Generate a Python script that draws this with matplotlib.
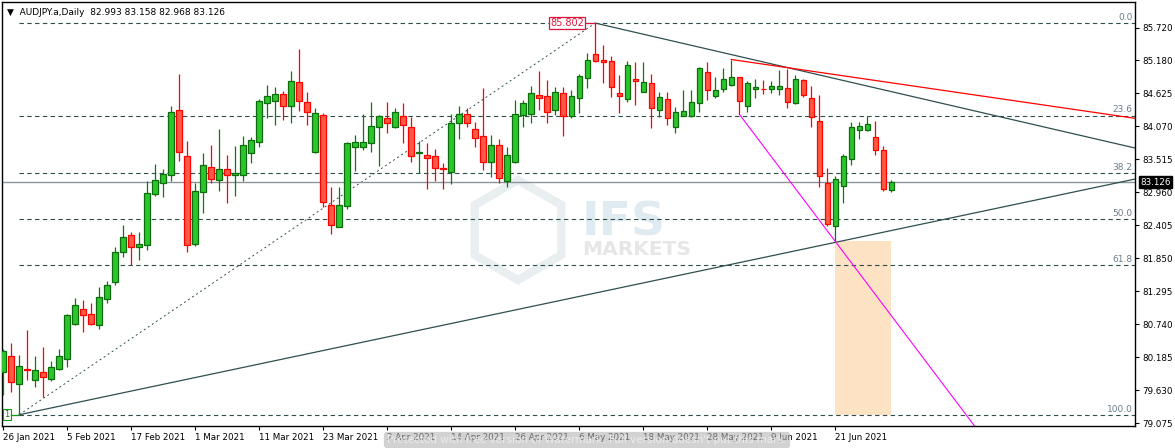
import matplotlib
matplotlib.use("Agg")
import matplotlib.pyplot as plt
import matplotlib.transforms as mtransforms
from matplotlib.patches import Rectangle, RegularPolygon

symbol = "AUDJPY.a,Daily"

# daily candles, bar 0 = 26 Jan 2021
opens = [79.93, 80.20, 79.73, 79.99, 79.80, 79.94, 79.81, 79.99, 80.15, 80.74,
         80.99, 80.91, 80.72, 81.17, 81.44, 81.96, 82.23, 82.03, 82.07, 82.92,
         83.12, 83.25, 84.34, 83.57, 82.08, 82.96, 83.38, 83.16, 83.34, 83.24,
         83.24, 83.62, 83.80, 84.46, 84.50, 84.61, 84.40, 84.81, 84.47, 83.64,
         84.26, 82.74, 82.38, 82.73, 83.71, 83.72, 83.79, 84.06, 84.21, 84.06,
         84.24, 84.05, 83.61, 83.58, 83.56, 83.36, 83.29, 84.13, 84.27, 84.02,
         83.90, 83.46, 83.75, 83.15, 83.47, 84.25, 84.27, 84.60, 84.57, 84.34,
         84.62, 84.24, 84.55, 84.88, 85.28, 85.18, 85.16, 84.62, 84.53, 84.86,
         84.65, 84.79, 84.34, 84.52, 84.06, 84.24, 84.24, 84.45, 84.98, 84.58,
         84.69, 84.76, 84.89, 84.40, 84.69, 84.70, 84.69, 84.69, 84.71, 84.45,
         84.84, 84.55, 84.16, 83.11, 82.39, 83.06, 83.51, 84.00, 84.00, 83.89,
         83.67, 82.993]
highs = [80.32, 80.43, 80.22, 80.64, 80.20, 80.35, 80.12, 80.32, 80.91, 81.18,
         81.15, 81.09, 81.36, 81.46, 82.03, 82.41, 82.29, 82.29, 83.15, 83.43,
         83.35, 84.41, 84.95, 83.82, 83.11, 83.61, 83.75, 84.02, 83.58, 83.74,
         83.90, 83.88, 84.53, 84.76, 84.73, 84.66, 85.00, 85.37, 84.65, 84.38,
         84.29, 83.04, 83.05, 83.80, 83.92, 84.28, 84.48, 84.26, 84.48, 84.38,
         84.46, 84.23, 83.82, 83.79, 83.68, 83.45, 84.27, 84.41, 84.38, 84.14,
         84.71, 83.92, 83.85, 83.72, 84.51, 84.51, 84.74, 84.99, 84.85, 84.73,
         84.72, 84.68, 84.95, 85.30, 85.802, 85.43, 85.25, 84.93, 85.17, 85.14,
         85.14, 84.95, 84.64, 84.65, 84.39, 84.67, 84.67, 85.07, 85.15, 84.89,
         85.04, 85.18, 84.89, 84.82, 84.86, 84.85, 84.82, 85.01, 85.03, 84.93,
         84.86, 84.74, 84.59, 83.36, 83.23, 83.60, 84.14, 84.14, 84.24, 84.16,
         83.73, 83.158]
lows = [79.55, 79.60, 79.216, 79.80, 79.68, 79.52, 79.79, 79.96, 80.02, 80.72,
        80.60, 80.72, 80.65, 81.09, 81.40, 81.86, 81.73, 81.81, 81.98, 82.90,
        82.88, 83.14, 83.49, 81.96, 82.06, 82.61, 83.11, 82.98, 82.77, 82.90,
        83.14, 83.45, 83.72, 84.20, 84.09, 84.18, 84.12, 84.33, 84.09, 83.62,
        82.71, 82.26, 82.37, 82.68, 83.32, 83.67, 83.64, 83.40, 83.96, 84.04,
        83.78, 83.47, 83.28, 83.02, 83.14, 83.02, 83.10, 83.86, 84.06, 83.72,
        83.33, 83.21, 83.11, 83.04, 83.45, 84.06, 84.12, 84.34, 84.13, 84.26,
        83.90, 84.20, 84.29, 84.71, 85.14, 84.80, 84.56, 84.29, 84.48, 84.43,
        84.65, 84.03, 84.22, 84.09, 83.96, 84.24, 84.22, 84.31, 84.51, 84.55,
        84.65, 84.74, 84.27, 84.30, 84.55, 84.61, 84.63, 84.60, 84.37, 84.44,
        84.56, 84.05, 83.05, 82.39, 82.13, 82.77, 83.42, 83.86, 83.99, 83.58,
        82.98, 82.968]
closes = [80.29, 79.76, 80.03, 79.97, 79.97, 79.85, 80.01, 80.21, 80.89, 81.06,
          80.89, 80.74, 81.19, 81.40, 81.95, 82.20, 82.03, 82.08, 82.94, 83.16,
          83.26, 84.31, 83.63, 82.07, 82.97, 83.41, 83.18, 83.34, 83.24, 83.28,
          83.75, 83.83, 84.49, 84.58, 84.61, 84.40, 84.83, 84.50, 84.31, 84.29,
          82.79, 82.40, 82.74, 83.78, 83.80, 83.80, 84.07, 84.24, 84.12, 84.30,
          84.08, 83.57, 83.63, 83.53, 83.36, 83.35, 84.12, 84.27, 84.12, 83.87,
          83.47, 83.75, 83.19, 83.58, 84.28, 84.45, 84.62, 84.55, 84.30, 84.64,
          84.24, 84.57, 84.91, 85.18, 85.17, 85.14, 84.72, 84.57, 85.10, 84.83,
          84.81, 84.37, 84.56, 84.20, 84.30, 84.32, 84.47, 85.04, 84.67, 84.68,
          84.86, 84.90, 84.49, 84.79, 84.72, 84.69, 84.74, 84.74, 84.47, 84.87,
          84.59, 84.23, 83.23, 82.42, 83.18, 83.57, 84.06, 84.07, 84.11, 83.67,
          83.01, 83.126]

date_ticks = [0, 8, 16, 24, 32, 40, 48, 56, 64, 72, 80, 88, 96, 104]
date_labels = ["26 Jan 2021", "5 Feb 2021", "17 Feb 2021", "1 Mar 2021",
               "11 Mar 2021", "23 Mar 2021", "2 Apr 2021", "14 Apr 2021",
               "26 Apr 2021", "6 May 2021", "18 May 2021", "28 May 2021",
               "9 Jun 2021", "21 Jun 2021"]
price_ticks = [85.720, 85.180, 84.625, 84.070, 83.515, 82.960, 82.405,
               81.850, 81.295, 80.740, 80.185, 79.630, 79.075]

fib_low, fib_high = 79.216, 85.802
fib_start, fib_end = 2, 74
fib_levels = [0.0, 23.6, 38.2, 50.0, 61.8, 100.0]
last_price = 83.126

upper_line = [(74, 85.802), (141.5, 83.70)]
red_line = [(91, 85.19), (141.5, 84.20)]
lower_line = [(2, 79.216), (141.5, 83.18)]
magenta_line = [(92, 84.27), (104, 82.13)]
zone = [104, 111, 79.216, 82.13]

xmin, xmax = -0.16, 141.46
ymin, ymax = 79.026, 86.157

fig = plt.figure(figsize=(11.75, 4.48), dpi=100)
ax = fig.add_axes([2 / 1175, 22 / 448, 1133 / 1175, 424 / 448])
ax.set_xlim(xmin, xmax)
ax.set_ylim(ymin, ymax)

# watermark logo
hexa = RegularPolygon((518, 448 - 230), 6, radius=50, facecolor="none",
                      edgecolor="#e9eef1", lw=6, zorder=0.5)
hexa.set_transform(mtransforms.IdentityTransform())
ax.add_patch(hexa)
ax.text(0.512, 0.45, "IFS", transform=ax.transAxes, fontsize=34, fontweight="bold",
        color="#dfeaf1", va="baseline", zorder=0.5)
ax.text(0.512, 0.403, "MARKETS", transform=ax.transAxes, fontsize=14.5, fontweight="bold",
        color="#e6e6e6", va="baseline", zorder=0.5)

# zone
ax.add_patch(Rectangle((zone[0], zone[2]), zone[1] - zone[0], zone[3] - zone[2],
                       facecolor="#fde2c4", edgecolor="none", zorder=1))

# fibonacci
for lv in fib_levels:
    p = fib_high - lv / 100 * (fib_high - fib_low)
    ax.plot([fib_start, xmax], [p, p], color="#2f4f4f", lw=0.8, ls=(0, (4, 3)), zorder=2)
    ax.text(0.998, p + 0.02, f"{lv:.1f}", transform=ax.get_yaxis_transform(),
            ha="right", va="bottom", fontsize=6.5, color="#6b7c8a")
ax.plot([fib_start, fib_end], [fib_low, fib_high], color="#2f4f4f", lw=0.7,
        ls=(0, (2, 3)), zorder=2)

ax.axhline(last_price, color="#8c949b", lw=1, zorder=2)

# trend lines
def extend(pts, x_to):
    (x0, y0), (x1, y1) = pts
    k = (y1 - y0) / (x1 - x0)
    return [x0, x_to], [y0, y0 + k * (x_to - x0)]

xs, ys = extend(upper_line, xmax)
ax.plot(xs, ys, color="#2f4f4f", lw=0.9, zorder=2)
xs, ys = extend(red_line, xmax)
ax.plot(xs, ys, color="#ff0000", lw=0.9, zorder=2)
xs, ys = extend(lower_line, xmax)
ax.plot(xs, ys, color="#2f4f4f", lw=0.9, zorder=2)
xs, ys = extend(magenta_line, 130)
ax.plot(xs, ys, color="#ff00ff", lw=0.8, zorder=2)

# candles
for i, (o, h, l, c) in enumerate(zip(opens, highs, lows, closes)):
    if c >= o:
        wick, face, edge = "#0a7a0a", "#2ec42e", "#0a6e0a"
    else:
        wick, face, edge = "#ff0000", "#ff5a45", "#ff0000"
    ax.vlines(i, l, h, color=wick, lw=0.9, zorder=3)
    ax.add_patch(Rectangle((i - 0.35, min(o, c)), 0.7, max(abs(c - o), 0.008),
                           facecolor=face, edgecolor=edge, lw=0.9, zorder=4))

# markers on fib anchors
ax.text(0.45, fib_low, "1", fontsize=6, color="#3a5f3a", ha="center", va="center",
        bbox=dict(boxstyle="square,pad=0.15", facecolor="white", edgecolor="#119911", lw=0.8),
        zorder=5)
ax.plot([1.0, fib_start], [fib_low, fib_low], color="#119911", lw=0.9, zorder=5)
ax.text(70.5, fib_high, "85.802", fontsize=7, color="#dc143c", ha="center", va="center",
        bbox=dict(boxstyle="square,pad=0.1", facecolor="white", edgecolor="#dc143c", lw=0.9),
        zorder=5)
ax.plot([72.8, fib_end], [fib_high, fib_high], color="#dc143c", lw=0.9, zorder=5)

# axes styling
for s in ax.spines.values():
    s.set_color("black")
    s.set_linewidth(1)
ax.yaxis.tick_right()
ax.set_yticks(price_ticks)
ax.set_yticklabels([f"{p:.3f}" for p in price_ticks])
ax.set_xticks(date_ticks)
ax.set_xticklabels(date_labels)
for lbl in ax.get_xticklabels():
    lbl.set_ha("left")
ax.tick_params(axis="both", direction="out", length=3, width=0.8, labelsize=6.3,
               colors="black", pad=2)

ax.annotate(f"{last_price:.3f}", xy=(1.0, last_price), xycoords=("axes fraction", "data"),
            xytext=(4, 0), textcoords="offset points", ha="left", va="center",
            fontsize=6.3, color="white",
            bbox=dict(boxstyle="square,pad=0.15", facecolor="black", edgecolor="black"))

ax.text(0.004, 0.985, "\u25bc  " + symbol + "  " +
        f"{opens[-1]:.3f} {highs[-1]:.3f} {lows[-1]:.3f} {closes[-1]:.3f}",
        transform=ax.transAxes, ha="left", va="top", fontsize=6.5, color="black")

fig.text(587 / 1175, 3 / 448,
         "Protected with free version of Watermark. Full version doesn't put this mark.",
         ha="center", va="bottom", fontsize=7.5, color="#f4f4f4", alpha=0.8,
         bbox=dict(boxstyle="round,pad=0.3", facecolor="#b4b4b4", edgecolor="none", alpha=0.6))

fig.savefig("out.png", dpi=100)
